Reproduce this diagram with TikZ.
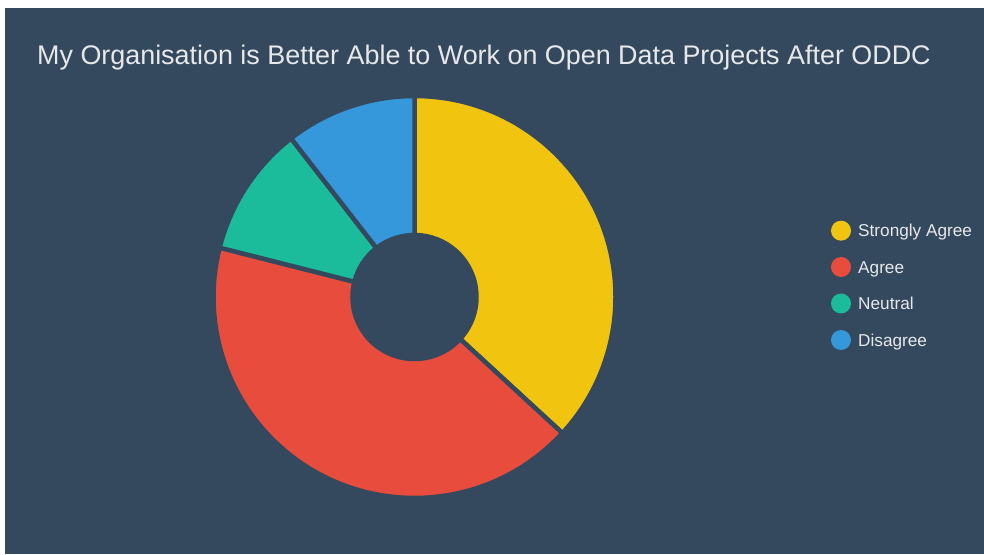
\documentclass[tikz,border=0pt]{standalone}
\usepackage{fontspec}
\usetikzlibrary{calc}
\setmainfont{Liberation Sans}
\definecolor{bgc}{HTML}{34495E}
\definecolor{txt}{HTML}{E6E8EA}
\definecolor{cyel}{HTML}{F1C40F}
\definecolor{cred}{HTML}{E74C3C}
\definecolor{cteal}{HTML}{1ABC9C}
\definecolor{cblue}{HTML}{3498DB}
\begin{document}
\begin{tikzpicture}[x=1pt,y=1pt,
  slice/.style={draw=bgc,line width=4.5pt,line join=miter},
  legdot/.style={circle,inner sep=0pt,minimum size=20pt},
  legtext/.style={anchor=base west,inner sep=0pt,text=txt,font=\fontsize{17.2}{20}\selectfont}]
\useasboundingbox (0,0) rectangle (984,554);
\fill[white] (0,0) rectangle (984,554);
\fill[bgc] (5,0) rectangle (984,546);
\node[anchor=base west,inner sep=0pt,text=txt,font=\fontsize{26.9}{31}\selectfont] (title) at (37,489) {My Organisation is Better Able to Work on Open Data Projects After ODDC};
\coordinate (c) at (414.5,257);
\def\Ro{201}\def\Ri{62}
\filldraw[slice,fill=cyel] ($(c)+(90:\Ro)$) arc[start angle=90,end angle=-42.63,radius=\Ro] -- ($(c)+(-42.63:\Ri)$) arc[start angle=-42.63,end angle=90,radius=\Ri] -- cycle;
\filldraw[slice,fill=cred] ($(c)+(-42.63:\Ro)$) arc[start angle=-42.63,end angle=-194.21,radius=\Ro] -- ($(c)+(-194.21:\Ri)$) arc[start angle=-194.21,end angle=-42.63,radius=\Ri] -- cycle;
\filldraw[slice,fill=cteal] ($(c)+(165.79:\Ro)$) arc[start angle=165.79,end angle=127.89,radius=\Ro] -- ($(c)+(127.89:\Ri)$) arc[start angle=127.89,end angle=165.79,radius=\Ri] -- cycle;
\filldraw[slice,fill=cblue] ($(c)+(127.89:\Ro)$) arc[start angle=127.89,end angle=90,radius=\Ro] -- ($(c)+(90:\Ri)$) arc[start angle=90,end angle=127.89,radius=\Ri] -- cycle;
\node[legdot,fill=cyel] (d1) at (841,323.3) {};
\node[legdot,fill=cred] (d2) at (841,287) {};
\node[legdot,fill=cteal] (d3) at (841,250.5) {};
\node[legdot,fill=cblue] (d4) at (841,214) {};
\node[legtext] (l1) at (858,317.2) {Strongly Agree};
\node[legtext] (l2) at (858,280.9) {Agree};
\node[legtext] (l3) at (858,244.4) {Neutral};
\node[legtext] (l4) at (858,207.9) {Disagree};
\end{tikzpicture}
\end{document}
